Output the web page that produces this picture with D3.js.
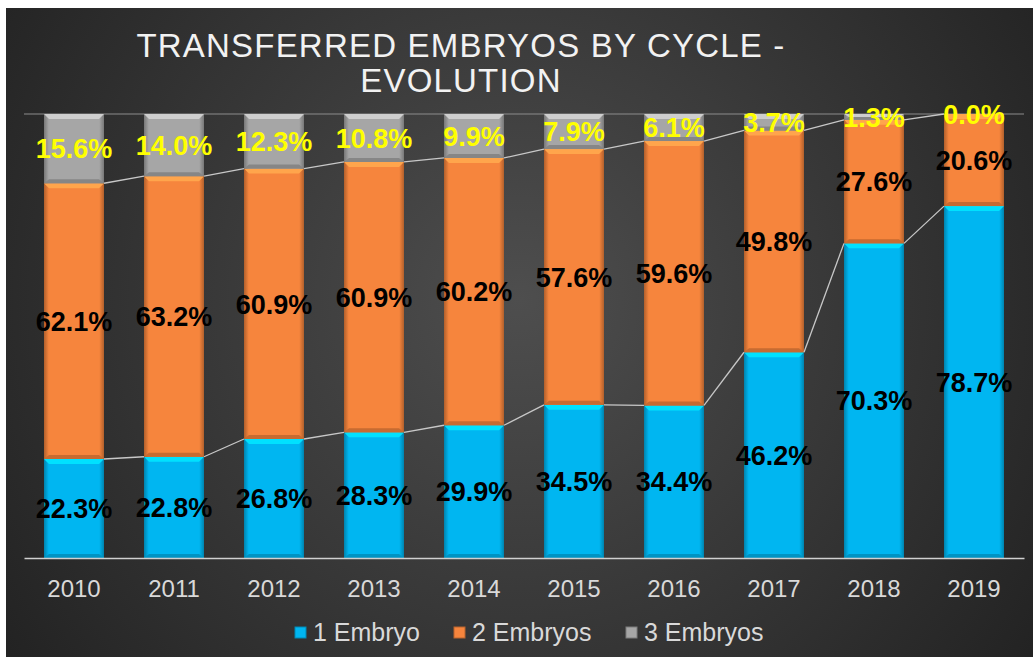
<!DOCTYPE html>
<html>
<head>
<meta charset="utf-8">
<script src="https://cdn.jsdelivr.net/npm/d3@7"></script>
<style>
body{margin:0;background:#fff;}
svg{display:block;font-family:"Liberation Sans",Arial,sans-serif;}
</style>
</head>
<body>
<script>
var svg_width=1033;
var svg_height=657;

var years=["2010","2011","2012","2013","2014","2015","2016","2017","2018","2019"];
var one_embryo=[22.3,22.8,26.8,28.3,29.9,34.5,34.4,46.2,70.3,78.7];
var two_embryos=[62.1,63.2,60.9,60.9,60.2,57.6,59.6,49.8,27.6,20.6];
var three_embryos=[15.6,14.0,12.3,10.8,9.9,7.9,6.1,3.7,1.3,0.0];
var series_names=["1 Embryo","2 Embryos","3 Embryos"];
var series_colors=["#00b6f1","#f6853d","#a6a6a6"];
var label_colors=["#000000","#000000","#ffff00"];

var rows=years.map(function(y,i){
    return {year:y,s0:one_embryo[i],s1:two_embryos[i],s2:three_embryos[i]};
});

var svg=d3.select("body")
    .append("svg")
    .attr("width",svg_width)
    .attr("height",svg_height);

var defs=svg.append("defs");

var bg=defs.append("radialGradient")
    .attr("id","bg")
    .attr("gradientUnits","userSpaceOnUse")
    .attr("cx",520).attr("cy",300).attr("r",620);
bg.append("stop").attr("offset","0%").attr("stop-color","#4e4e4e");
bg.append("stop").attr("offset","100%").attr("stop-color","#232323");

// horizontal shading for the bevelled bars
series_colors.forEach(function(c,i){
    var g=defs.append("linearGradient").attr("id","bar"+i)
        .attr("x1","0").attr("x2","1").attr("y1","0").attr("y2","0");
    var dark=d3.color(c).darker(0.9);
    g.append("stop").attr("offset","0%").attr("stop-color",dark);
    g.append("stop").attr("offset","8%").attr("stop-color",c);
    g.append("stop").attr("offset","92%").attr("stop-color",c);
    g.append("stop").attr("offset","100%").attr("stop-color",dark);
});

svg.append("rect")
    .attr("x",6).attr("y",8)
    .attr("width",svg_width-6).attr("height",svg_height-8)
    .attr("fill","url(#bg)");

// title
var title=svg.append("text")
    .attr("text-anchor","middle")
    .attr("fill","#f2f2f2")
    .attr("font-size","33px")
    .style("letter-spacing","1.2px");
title.append("tspan").attr("x",461).attr("y",57).text("TRANSFERRED EMBRYOS BY CYCLE -");
title.append("tspan").attr("x",461).attr("y",92).text("EVOLUTION");

var x=d3.scaleBand()
    .domain(years)
    .range([24,1024])
    .paddingInner(0.4)
    .paddingOuter(0.2);

var y=d3.scaleLinear()
    .domain([0,1])
    .range([558,114]);

var stack=d3.stack()
    .keys(["s0","s1","s2"])
    .offset(d3.stackOffsetExpand);
var layers=stack(rows);

// gridline at 100%
svg.append("line")
    .attr("x1",24).attr("x2",1024)
    .attr("y1",y(1)).attr("y2",y(1))
    .attr("stroke","#8c8c8c").attr("stroke-width",1);

var bw=x.bandwidth();

var groups=svg.selectAll("g.layer")
    .data(layers)
    .enter()
    .append("g")
    .attr("class","layer");

groups.each(function(layer,si){
    var g=d3.select(this);
    var col=series_colors[si];
    var segs=g.selectAll("g.seg")
        .data(layer.filter(function(d){return y(d[0])-y(d[1])>0.5;}))
        .enter().append("g");
    segs.append("rect")
        .attr("x",function(d){return x(d.data.year);})
        .attr("y",function(d){return y(d[1]);})
        .attr("width",bw)
        .attr("height",function(d){return y(d[0])-y(d[1]);})
        .attr("fill","url(#bar"+si+")");
    // top bevel highlight
    segs.append("path")
        .attr("d",function(d){
            var x0=x(d.data.year),y0=y(d[1]);
            var h=Math.min(5,(y(d[0])-y(d[1]))/2);
            return "M"+x0+","+y0+"L"+(x0+bw)+","+y0+"L"+(x0+bw-5)+","+(y0+h)+"L"+(x0+5)+","+(y0+h)+"Z";
        })
        .attr("fill",d3.color(col).brighter(0.6));
    // bottom shade
    segs.append("path")
        .attr("d",function(d){
            var x0=x(d.data.year),y1=y(d[0]);
            var h=Math.min(4,(y(d[0])-y(d[1]))/2);
            return "M"+x0+","+y1+"L"+(x0+bw)+","+y1+"L"+(x0+bw-5)+","+(y1-h)+"L"+(x0+5)+","+(y1-h)+"Z";
        })
        .attr("fill",d3.color(col).darker(0.6));
});

// series lines connecting segment tops
[0,1].forEach(function(si){
    var layer=layers[si];
    for(var i=0;i<layer.length-1;i++){
        svg.append("line")
            .attr("x1",x(years[i])+bw)
            .attr("y1",y(layer[i][1]))
            .attr("x2",x(years[i+1]))
            .attr("y2",y(layer[i+1][1]))
            .attr("stroke","#c8c8c8")
            .attr("stroke-width",1.3);
    }
});

// axis
var xAxis=d3.axisBottom(x).tickSize(0).tickPadding(22);
var ax=svg.append("g")
    .attr("transform","translate(0,558)")
    .call(xAxis);
ax.select(".domain").attr("stroke","#d0d0d0").attr("stroke-width",1.5);
ax.selectAll("text")
    .attr("fill","#d9d9d9")
    .style("font-size","24px")
    .style("font-family","'Liberation Sans',Arial,sans-serif");

// data labels
var vals=[one_embryo,two_embryos,three_embryos];
layers.forEach(function(layer,si){
    svg.append("g").selectAll("text")
        .data(layer)
        .enter()
        .append("text")
        .text(function(d,i){return vals[si][i].toFixed(1)+"%";})
        .attr("text-anchor","middle")
        .attr("x",function(d){return x(d.data.year)+bw/2;})
        .attr("y",function(d){return (y(d[0])+y(d[1]))/2;})
        .attr("dy","0.36em")
        .attr("font-size","27px")
        .attr("font-weight","bold")
        .attr("fill",label_colors[si]);
});

// legend
var legend_x=[295,454,626];
var lg=svg.append("g").selectAll("g")
    .data(series_names)
    .enter().append("g")
    .attr("transform",function(d,i){return "translate("+legend_x[i]+",632)";});
lg.append("rect")
    .attr("x",0).attr("y",-5)
    .attr("width",11).attr("height",11)
    .attr("fill",function(d,i){return series_colors[i];})
    .attr("stroke",function(d,i){return d3.color(series_colors[i]).darker(0.8);})
    .attr("stroke-width",1);
lg.append("text")
    .attr("x",18)
    .attr("dy","0.36em")
    .attr("fill","#d9d9d9")
    .attr("font-size","25px")
    .text(function(d){return d;});
</script>
</body>
</html>
